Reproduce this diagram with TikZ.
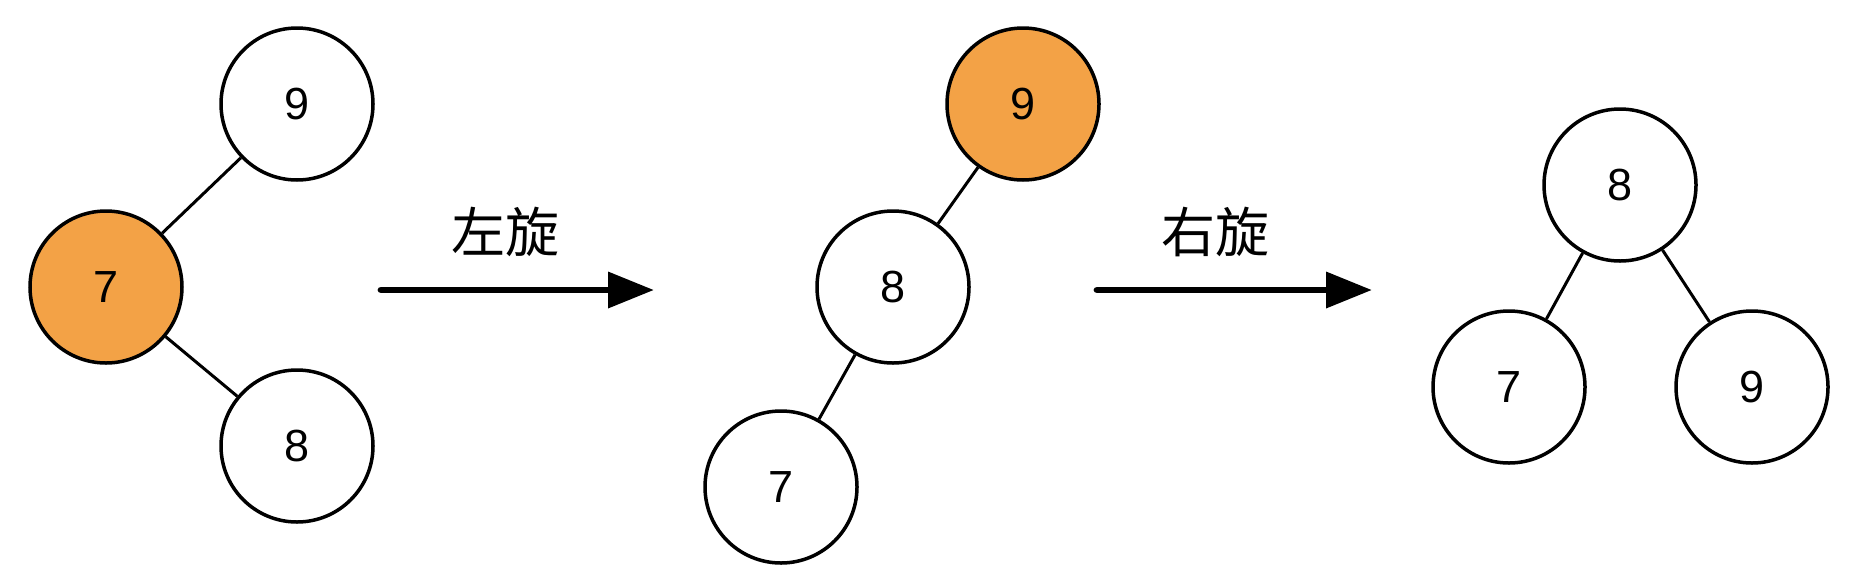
\documentclass[tikz,border=0pt]{standalone}
\usepackage{fontspec}
\setmainfont{Liberation Sans}
\newfontfamily\cjk{Noto Sans CJK SC}
\usetikzlibrary{arrows.meta}
\definecolor{hl}{RGB}{243,162,70}
\begin{document}
\begin{tikzpicture}[x=0.5pt,y=-0.5pt,
  tnode/.style={circle,draw=black,line width=1.75pt,fill=white,minimum size=76pt,inner sep=0pt,font=\fontsize{22.5}{22.5}\selectfont},
  hot/.style={tnode,fill=hl},
  edge/.style={draw=black,line width=1.5pt},
  rot/.style={line width=3.4pt,line cap=round,-{Triangle[length=23pt,width=17.5pt]}},
  lbl/.style={font=\cjk\fontsize{27}{27}\selectfont}]
\useasboundingbox (0,0) rectangle (1850,584);
% left tree
\node[tnode] (L9) at (297,104) {9};
\node[hot]   (L7) at (106,287) {7};
\node[tnode] (L8) at (297,446) {8};
\draw[edge] (L7) -- (L9);
\draw[edge] (L7) -- (L8);
% arrow 1
\coordinate (a1s) at (381,290);
\coordinate (a1e) at (654,290);
\draw[rot] (a1s) -- (a1e);
\node[lbl] (t1) at (505,232) {左旋};
% middle tree
\node[hot]   (M9) at (1023,104) {9};
\node[tnode] (M8) at (893,287) {8};
\node[tnode] (M7) at (781,487) {7};
\draw[edge] (M8) -- (M9);
\draw[edge] (M8) -- (M7);
% arrow 2
\coordinate (a2s) at (1097,290);
\coordinate (a2e) at (1372,290);
\draw[rot] (a2s) -- (a2e);
\node[lbl] (t2) at (1215,232) {右旋};
% right tree
\node[tnode] (R8) at (1620,185) {8};
\node[tnode] (R7) at (1509,387) {7};
\node[tnode] (R9) at (1752,387) {9};
\draw[edge] (R8) -- (R7);
\draw[edge] (R8) -- (R9);
\end{tikzpicture}
\end{document}
